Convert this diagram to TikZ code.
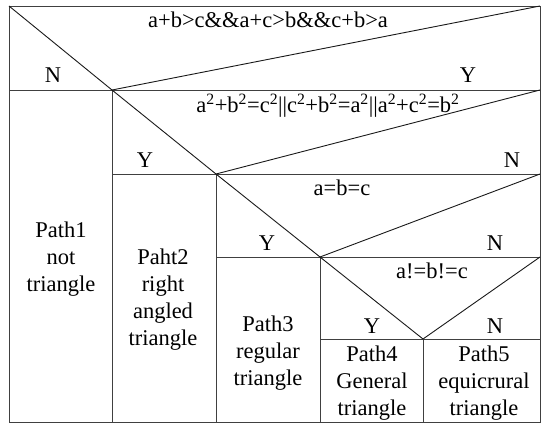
\documentclass[tikz,border=0pt]{standalone}
\usepackage{fontspec}
\setmainfont{Liberation Serif}
\begin{document}
\begin{tikzpicture}[x=1pt,y=-1pt,
  frame/.style={line width=0.9pt, draw=black!75},
  cut/.style={line width=0.9pt, draw=black!90},
  lbl/.style={font=\fontsize{22.5}{27}\selectfont, inner sep=0pt, anchor=base},
  body/.style={font=\fontsize{22.5}{27}\selectfont, inner sep=0pt, align=center, anchor=center}]
\useasboundingbox (0,0) rectangle (541,424);
% corners
\coordinate (TL) at (9,6);
\coordinate (TR) at (540,6);
\coordinate (BL) at (9,422);
\coordinate (BR) at (540,422);
% level rows
\coordinate (L1) at (9,90);   \coordinate (R1) at (540,90);
\coordinate (V1) at (112,90);
\coordinate (L2) at (112,174); \coordinate (R2) at (540,174);
\coordinate (V2) at (216,174);
\coordinate (L3) at (216,257); \coordinate (R3) at (540,257);
\coordinate (V3) at (320,257);
\coordinate (L4) at (320,339); \coordinate (R4) at (540,339);
\coordinate (V4) at (423,339);
\coordinate (B1) at (112,422); \coordinate (B2) at (216,422);
\coordinate (B3) at (320,422); \coordinate (B4) at (423,422);
% frame and rows
\draw[frame] (TL) -- (TR) -- (BR) -- (BL) -- cycle;
\draw[frame] (L1) -- (R1);
\draw[frame] (L2) -- (R2);
\draw[frame] (L3) -- (R3);
\draw[frame] (L4) -- (R4);
\draw[frame] (V1) -- (B1);
\draw[frame] (V2) -- (B2);
\draw[frame] (V3) -- (B3);
\draw[frame] (V4) -- (B4);
% decision diagonals
\draw[cut] (TL) -- (V1) -- (TR);
\draw[cut] (V1) -- (V2) -- (R1);
\draw[cut] (V2) -- (V3) -- (R2);
\draw[cut] (V3) -- (V4) -- (R3);
% labels
\node[lbl] (c1) at (268,27) {a+b>c\&\&a+c>b\&\&c+b>a};
\node[lbl] (n1) at (53,82) {N};
\node[lbl] (y1) at (468,82) {Y};
\node[lbl] (c2) at (328,112) {a\textsuperscript{2}+b\textsuperscript{2}=c\textsuperscript{2}||c\textsuperscript{2}+b\textsuperscript{2}=a\textsuperscript{2}||a\textsuperscript{2}+c\textsuperscript{2}=b\textsuperscript{2}};
\node[lbl] (y2) at (145,167) {Y};
\node[lbl] (n2) at (512,167) {N};
\node[lbl] (c3) at (342,195) {a=b=c};
\node[lbl] (y3) at (267,250) {Y};
\node[lbl] (n3) at (495,250) {N};
\node[lbl] (c4) at (432,278) {a!=b!=c};
\node[lbl] (y4) at (372,333) {Y};
\node[lbl] (n4) at (495,333) {N};
\node[body] (p1) at (61,259) {Path1\\not\\triangle};
\node[body] (p2) at (163,300) {Paht2\\right\\angled\\triangle};
\node[body] (p3) at (268,353) {Path3\\regular\\triangle};
\node[body] (p4) at (372,383) {Path4\\General\\triangle};
\node[body] (p5) at (484,383) {Path5\\equicrural\\triangle};
\end{tikzpicture}
\end{document}
